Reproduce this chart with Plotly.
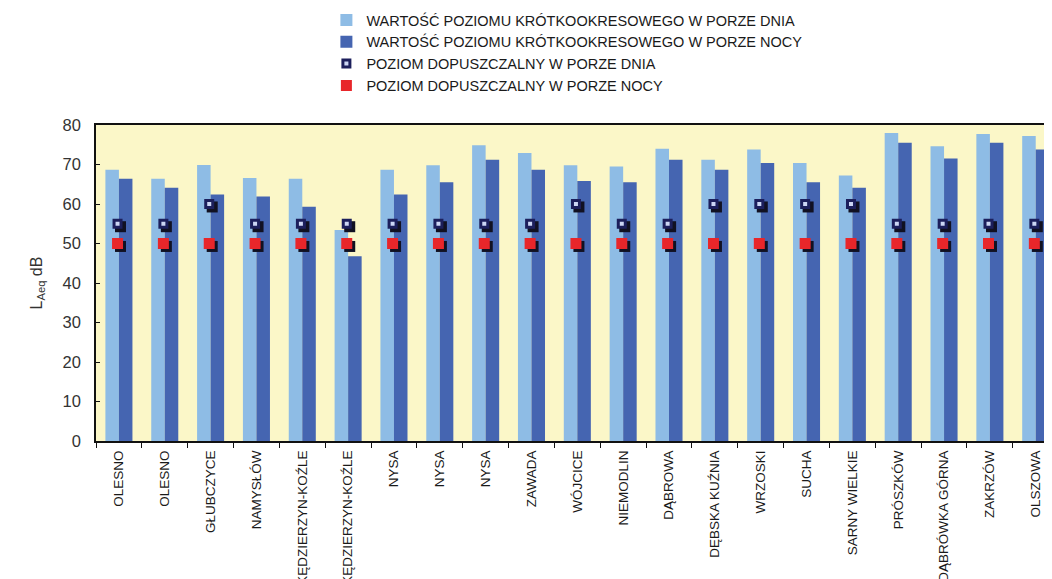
import plotly.graph_objects as go

categories = ["OLESNO", "OLESNO", "GŁUBCZYCE", "NAMYSŁÓW", "KĘDZIERZYN-KOŹLE",
              "KĘDZIERZYN-KOŹLE", "NYSA", "NYSA", "NYSA", "ZAWADA", "WÓJCICE",
              "NIEMODLIN", "DĄBROWA", "DĘBSKA KUŹNIA", "WRZOSKI", "SUCHA",
              "SARNY WIELKIE", "PRÓSZKÓW", "DĄBRÓWKA GÓRNA", "ZAKRZÓW", "OLSZOWA"]
day_values = [68.7, 66.4, 69.9, 66.6, 66.4, 53.4, 68.7, 69.8, 74.9, 72.9, 69.8,
              69.5, 74.0, 71.2, 73.8, 70.4, 67.2, 78.0, 74.6, 77.7, 77.2]
night_values = [66.4, 64.1, 62.4, 61.9, 59.3, 46.8, 62.4, 65.5, 71.2, 68.7, 65.8,
                65.5, 71.2, 68.7, 70.4, 65.5, 64.1, 75.5, 71.5, 75.5, 73.8]
day_limit = [55, 55, 60, 55, 55, 55, 55, 55, 55, 55, 60,
             55, 55, 60, 60, 60, 60, 55, 55, 55, 55]
night_limit = [50] * 21
y_ticks = [0, 10, 20, 30, 40, 50, 60, 70, 80]

names = ["WARTOŚĆ POZIOMU KRÓTKOOKRESOWEGO W PORZE DNIA",
         "WARTOŚĆ POZIOMU KRÓTKOOKRESOWEGO W PORZE NOCY",
         "POZIOM DOPUSZCZALNY W PORZE DNIA",
         "POZIOM DOPUSZCZALNY W PORZE NOCY"]

x = list(range(len(categories)))
mx = [i - 0.03 for i in x]
sx = [i + 0.035 for i in x]
day_shadow = [v - 0.75 for v in day_limit]
night_shadow = [v - 0.75 for v in night_limit]

fig = go.Figure()
fig.add_trace(go.Bar(x=x, y=day_values, name=names[0], marker_color="#8EBCE5",
                     marker_line_width=0))
fig.add_trace(go.Bar(x=x, y=night_values, name=names[1], marker_color="#4565B1",
                     marker_line_width=0))
# shadows
fig.add_trace(go.Scatter(x=sx, y=day_shadow, mode="markers", showlegend=False,
                         hoverinfo="skip",
                         marker=dict(symbol="square", size=11, color="#111122")))
fig.add_trace(go.Scatter(x=sx, y=night_shadow, mode="markers", showlegend=False,
                         hoverinfo="skip",
                         marker=dict(symbol="square", size=11, color="#111122")))
fig.add_trace(go.Scatter(x=mx, y=day_limit, mode="markers", name=names[2],
                         marker=dict(symbol="square", size=7, color="#CCD6F4",
                                     line=dict(color="#1C1F5C", width=3))))
fig.add_trace(go.Scatter(x=mx, y=night_limit, mode="markers", name=names[3],
                         marker=dict(symbol="square", size=11, color="#E8262A",
                                     line=dict(width=0))))

fig.update_layout(
    width=1044, height=571,
    margin=dict(l=88, r=0, t=117, b=138, autoexpand=False),
    paper_bgcolor="white",
    plot_bgcolor="#FBF7C8",
    barmode="group",
    bargap=0.41,
    bargroupgap=0,
    font=dict(family="Liberation Sans, Arial, sans-serif", color="#1a1a1a"),
    legend=dict(x=0.241, xanchor="left", y=1.383, yanchor="top",
                font=dict(size=14.5, color="#1a1a1a"),
                bgcolor="rgba(0,0,0,0)", tracegroupgap=0, itemwidth=30),
    xaxis=dict(range=[-0.5, 20.355], tickmode="array", tickvals=x,
               ticktext=categories, tickangle=-90, ticks="",
               tickfont=dict(size=13.5, color="#1a1a1a"),
               ticklabelstandoff=2, automargin=False,
               showline=True, linecolor="#111111", linewidth=2, mirror=True,
               showgrid=False, zeroline=False,
               minor=dict(tickmode="linear", tick0=0.5, dtick=1, ticks="outside",
                          ticklen=5, tickcolor="#111111", tickwidth=1,
                          showgrid=False)),
    yaxis=dict(range=[0, 80], tickmode="array", tickvals=y_ticks,
               ticks="inside", ticklen=4, tickcolor="#111111",
               tickfont=dict(size=16.5, color="#333333"),
               ticklabelstandoff=10, automargin=False,
               showline=True, linecolor="#111111", linewidth=1.5,
               showgrid=False, zeroline=False,
               title=dict(text="L<sub>Aeq</sub> dB", standoff=16,
                          font=dict(size=16, color="#333333"))),
)

fig.write_html("out.html")
